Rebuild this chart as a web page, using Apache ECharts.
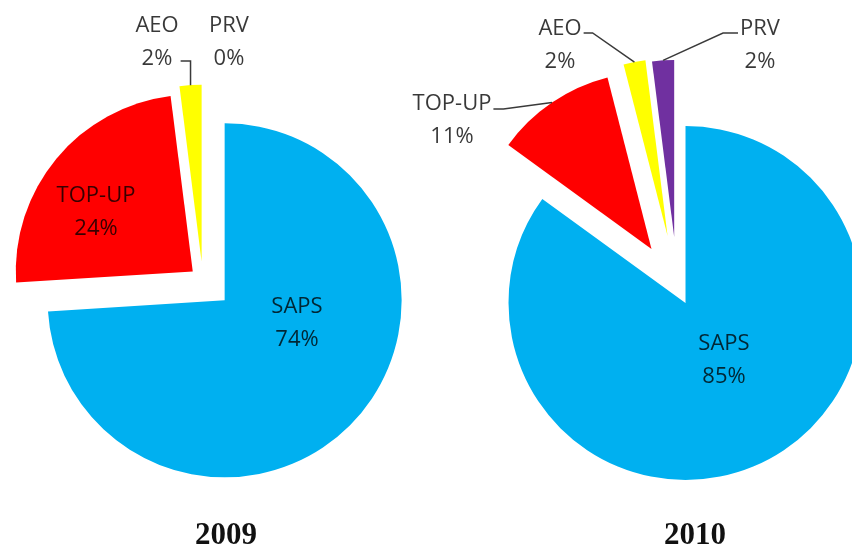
<!DOCTYPE html>
<html>
<head>
<meta charset="utf-8">
<script src="https://cdn.jsdelivr.net/npm/echarts@6/dist/echarts.min.js"></script>
<style>
  html, body { margin: 0; padding: 0; background: #fff; }
  #chart { width: 852px; height: 554px; }
</style>
</head>
<body>
<div id="chart"></div>
<script>
// data
const years = ['2009', '2010'];
const categories = ['SAPS', 'TOP-UP', 'AEO', 'PRV'];
const values2009 = [74, 24, 2, 0];
const values2010 = [85, 11, 2, 2];
const yearValues = [values2009, values2010];

// looks
const colors = ['#00b0f0', '#ff0000', '#ffff00', '#7030a0'];
const pieCenters = [['23.8%', '50.5%'], ['79.5%', '51.8%']];
const pieRadius = 177;
// explosion of each slice (px), per year
const explodeOffsets = [[30, 13, 18, 18], [18, 46, 52, 50]];
// label placement (label centre) and leader line shape, per year
const labelConf = [
    {
        'SAPS': { pos: [297, 323], inside: true },
        'TOP-UP': { pos: [96, 212], inside: true },
        'AEO': { pos: [157, 42], line: { dy: 19, vertical: true } },
        'PRV': { pos: [229, 42] }
    },
    {
        'SAPS': { pos: [724, 360], inside: true },
        'TOP-UP': { pos: [452, 120], line: { dy: -11, dx: 10 } },
        'AEO': { pos: [560, 45], line: { dy: -12, dx: 9 } },
        'PRV': { pos: [760, 45], line: { dy: -12, dx: 15 } }
    }
];
const titleX = [226, 695];

const chart = echarts.init(document.getElementById('chart'));

// one series per slice so each slice gets its own explode distance
function sliceSeries(yi) {
    const vals = yearValues[yi];
    return categories.map((cat, k) => ({
        type: 'pie',
        name: years[yi] + ' ' + cat,
        center: pieCenters[yi],
        radius: pieRadius,
        startAngle: 90,
        clockwise: true,
        minAngle: 0,
        selectedMode: 'single',
        selectedOffset: explodeOffsets[yi][k],
        silent: true,
        z: 2,
        label: { show: false },
        labelLine: { show: false },
        data: categories.map((c, j) => ({
            name: c,
            value: vals[j],
            selected: j === k,
            itemStyle: { color: j === k ? colors[j] : 'rgba(0,0,0,0)' }
        }))
    }));
}

// labels on an un-exploded, invisible copy of the pie
function labelSeries(yi) {
    const vals = yearValues[yi];
    return {
        type: 'pie',
        name: years[yi] + ' labels',
        center: pieCenters[yi],
        radius: pieRadius,
        startAngle: 90,
        clockwise: true,
        minAngle: 0,
        avoidLabelOverlap: false,
        silent: true,
        z: 3,
        itemStyle: { color: 'rgba(0,0,0,0)' },
        label: {
            formatter: '{b}\n{c}%',
            fontFamily: 'Open Sans',
            fontSize: 22,
            lineHeight: 33,
            color: 'rgba(0,0,0,0.78)'
        },
        labelLine: {
            length: 10,
            length2: 8,
            lineStyle: { color: '#3a3a3a', width: 1.5 }
        },
        labelLayout: function (params) {
            const conf = labelConf[yi][categories[params.dataIndex]];
            const out = { x: conf.pos[0], y: conf.pos[1], align: 'center', verticalAlign: 'middle' };
            const pts = params.labelLinePoints;
            if (conf.line && pts) {
                // push the line end out to the exploded slice
                const len = Math.hypot(pts[1][0] - pts[0][0], pts[1][1] - pts[0][1]) || 1;
                const ux = (pts[1][0] - pts[0][0]) / len;
                const uy = (pts[1][1] - pts[0][1]) / len;
                const off = explodeOffsets[yi][params.dataIndex];
                const anchor = [pts[0][0] + ux * off, pts[0][1] + uy * off];
                const side = anchor[0] > conf.pos[0] ? 1 : -1;
                const edge = [conf.pos[0] + side * (params.labelRect.width / 2 + 2), conf.pos[1] + conf.line.dy];
                const elbow = conf.line.vertical ? [anchor[0], edge[1]] : [edge[0] + side * conf.line.dx, edge[1]];
                out.labelLinePoints = [anchor, elbow, edge];
            }
            return out;
        },
        data: categories.map((c, j) => {
            const conf = labelConf[yi][c];
            return {
                name: c,
                value: vals[j],
                label: { position: conf.inside ? 'inside' : 'outside' },
                labelLine: { show: !!conf.line }
            };
        })
    };
}

const option = {
    animation: false,
    backgroundColor: '#fff',
    graphic: years.map((y, i) => ({
        type: 'text',
        x: titleX[i],
        y: 536,
        style: {
            text: y,
            align: 'center',
            verticalAlign: 'middle',
            fontFamily: 'Liberation Serif',
            fontWeight: 'bold',
            fontSize: 31,
            fill: '#111'
        }
    })),
    series: sliceSeries(0).concat(sliceSeries(1), [labelSeries(0), labelSeries(1)])
};

chart.setOption(option);
</script>
</body>
</html>
